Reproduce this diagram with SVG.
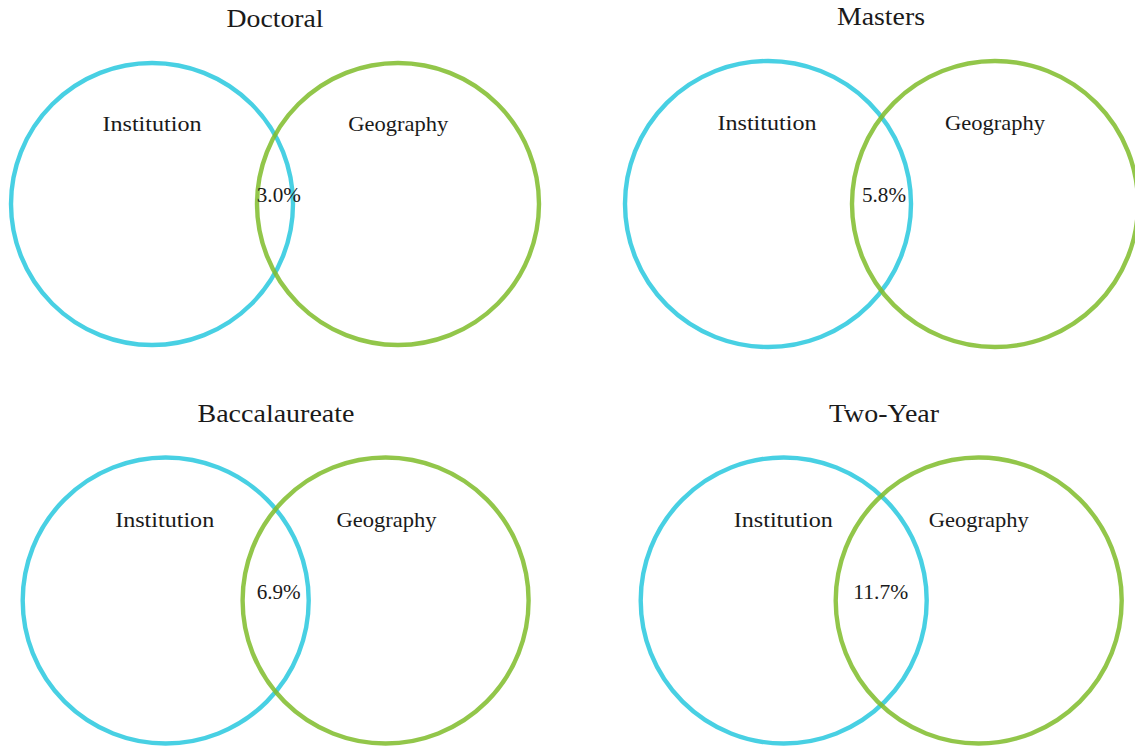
<svg xmlns="http://www.w3.org/2000/svg" width="1135" height="747" viewBox="0 0 1135 747">
<style>
text{fill:#1a1a1a;text-anchor:middle}
.title{font-size:25px}
.lbl{font-size:21px}
.pct{font-size:21px}
.inst{fill:none;stroke:#28c8de;stroke-opacity:0.85;stroke-width:4.4}
.geo{fill:none;stroke:#7fbc2a;stroke-opacity:0.85;stroke-width:4.4}
</style>
<rect width="1135" height="747" fill="#ffffff"/>
<g font-family="'Liberation Serif', 'DejaVu Serif', serif">
<g id="doctoral">
<text class="title" x="275" y="26.5" textLength="97" lengthAdjust="spacingAndGlyphs">Doctoral</text>
<g id="doctoral-institution"><circle class="inst" cx="152" cy="204" r="141"/><text class="lbl" x="152" y="130.7" textLength="99" lengthAdjust="spacingAndGlyphs">Institution</text></g>
<g id="doctoral-geography"><circle class="geo" cx="398" cy="204" r="141"/><text class="lbl" x="398.3" y="130.7" textLength="100" lengthAdjust="spacingAndGlyphs">Geography</text></g>
<text class="pct" x="278.8" y="201.7" textLength="44" lengthAdjust="spacingAndGlyphs">3.0%</text>
</g>
<g id="masters">
<text class="title" x="881" y="25" textLength="88" lengthAdjust="spacingAndGlyphs">Masters</text>
<g id="masters-institution"><circle class="inst" cx="768" cy="204" r="143"/><text class="lbl" x="767" y="130" textLength="99" lengthAdjust="spacingAndGlyphs">Institution</text></g>
<g id="masters-geography"><circle class="geo" cx="995" cy="204" r="143"/><text class="lbl" x="995" y="130" textLength="100" lengthAdjust="spacingAndGlyphs">Geography</text></g>
<text class="pct" x="884" y="201.7" textLength="44" lengthAdjust="spacingAndGlyphs">5.8%</text>
</g>
<g id="baccalaureate">
<text class="title" x="276" y="421.7" textLength="157" lengthAdjust="spacingAndGlyphs">Baccalaureate</text>
<g id="baccalaureate-institution"><circle class="inst" cx="165.7" cy="600.5" r="143"/><text class="lbl" x="164.7" y="526.7" textLength="99" lengthAdjust="spacingAndGlyphs">Institution</text></g>
<g id="baccalaureate-geography"><circle class="geo" cx="385.6" cy="600.5" r="143"/><text class="lbl" x="386.5" y="526.7" textLength="100" lengthAdjust="spacingAndGlyphs">Geography</text></g>
<text class="pct" x="278.7" y="599" textLength="44" lengthAdjust="spacingAndGlyphs">6.9%</text>
</g>
<g id="two-year">
<text class="title" x="884" y="421.7" textLength="110" lengthAdjust="spacingAndGlyphs">Two-Year</text>
<g id="two-year-institution"><circle class="inst" cx="783.7" cy="600.5" r="143"/><text class="lbl" x="783.3" y="526.7" textLength="99" lengthAdjust="spacingAndGlyphs">Institution</text></g>
<g id="two-year-geography"><circle class="geo" cx="978.7" cy="600.5" r="143"/><text class="lbl" x="978.8" y="526.7" textLength="100" lengthAdjust="spacingAndGlyphs">Geography</text></g>
<text class="pct" x="880.8" y="598.5" textLength="55" lengthAdjust="spacingAndGlyphs">11.7%</text>
</g>
</g>
<g id="connectors"/>
</svg>
